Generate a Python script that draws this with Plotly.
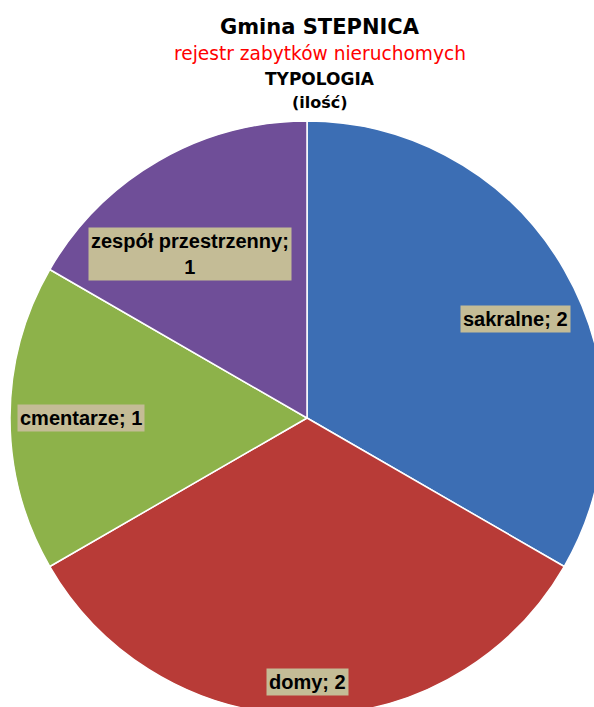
import math
import plotly.graph_objects as go

# ---- data ----
categories = ["sakralne", "domy", "cmentarze", "zespół przestrzenny"]
values = [2, 2, 1, 1]
label_texts = ["sakralne; 2", "domy; 2", "cmentarze; 1", "zespół przestrzenny;<br>1"]
title_lines = ["Gmina STEPNICA", "rejestr zabytków nieruchomych", "TYPOLOGIA", "(ilość)"]

# ---- style ----
colors = ["#3C6EB4", "#B83B37", "#8DB24A", "#6F4E98"]
label_bg = "#C4BC96"
W, H = 614, 725            # figure larger than window so the pie is cropped like the original
CX, CY, R = 307, 418, 297  # pie geometry in pixels
label_rfac = [0.776, 0.89, 0.76, 0.68]
label_doff = [4.5, 0.0, 0.0, -5.5]

fig = go.Figure(go.Pie(
    labels=categories, values=values, sort=False, direction="clockwise", rotation=0,
    marker=dict(colors=colors, line=dict(color="white", width=1.5)),
    textinfo="none", hoverinfo="label+value",
    domain=dict(x=[(CX - R) / W, (CX + R) / W], y=[1 - (CY + R) / H, 1 - (CY - R) / H]),
    showlegend=False,
))

total = sum(values)
cum = 0
annotations = []
for i, v in enumerate(values):
    mid = (cum + v / 2) / total * 360 + label_doff[i]
    cum += v
    a = math.radians(mid)
    px = CX + label_rfac[i] * R * math.sin(a)
    py = CY - label_rfac[i] * R * math.cos(a)
    annotations.append(dict(
        x=px / W, y=1 - py / H, xref="paper", yref="paper", showarrow=False,
        xanchor="center", yanchor="middle",
        text=f"<b>{label_texts[i]}</b>", bgcolor=label_bg, borderpad=2,
        font=dict(family="Liberation Sans, Arial", size=20, color="black"),
    ))

title_style = [
    dict(size=21, color="black", bold=True, y=27),
    dict(size=18.6, color="#FF0000", bold=False, y=54),
    dict(size=17, color="black", bold=True, y=79),
    dict(size=16, color="black", bold=True, y=102),
]
for t, s in zip(title_lines, title_style):
    txt = f"<b>{t}</b>" if s["bold"] else t
    annotations.append(dict(
        x=320 / W, y=1 - s["y"] / H, xref="paper", yref="paper", showarrow=False,
        text=txt, font=dict(family="DejaVu Sans, sans-serif", size=s["size"], color=s["color"]),
        xanchor="center", yanchor="middle",
    ))

fig.update_layout(
    width=W, height=H, margin=dict(l=0, r=0, t=0, b=0),
    paper_bgcolor="white", plot_bgcolor="white",
    annotations=annotations,
)

fig.write_html(
    "out.html",
    config={"displayModeBar": False},
    post_script="document.body.style.margin='0';document.body.style.overflow='hidden';"
                "document.documentElement.style.overflow='hidden';",
)
